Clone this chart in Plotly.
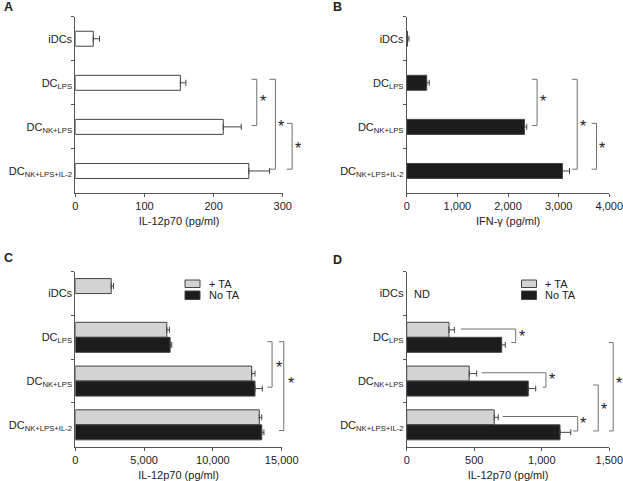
import plotly.graph_objects as go

# ---------------- data ----------------
categories = ["iDCs", "DC<sub>LPS</sub>", "DC<sub>NK+LPS</sub>", "DC<sub>NK+LPS+IL-2</sub>"]

a_values = [26, 152, 214, 251]
a_errors = [9, 8, 26, 30]

b_values = [15, 395, 2325, 3075]
b_errors = [30, 50, 45, 140]

c_ta_values = [2610, 6650, 12820, 13370]
c_ta_errors = [170, 190, 240, 180]
c_nota_values = [None, 6890, 13060, 13550]
c_nota_errors = [0, 120, 530, 160]

d_ta_values = [None, 313, 463, 648]
d_ta_errors = [0, 40, 55, 30]
d_nota_values = [None, 703, 900, 1135]
d_nota_errors = [0, 27, 55, 80]

series_names = ["+ TA", "No TA"]
x_titles = ["IL-12p70 (pg/ml)", "IFN-γ (pg/ml)", "IL-12p70 (pg/ml)", "IL-12p70 (pg/ml)"]
x_ranges = [[0, 300], [0, 4000], [0, 15000], [0, 1500]]
x_dticks = [100, 1000, 5000, 500]
panel_letters = ["A", "B", "C", "D"]

# significance brackets: (x_top_start, x_bottom_start, x_vertical, y_top, y_bottom)
a_brackets = [(255, 255, 262.5, 0.92, 1.97), (280.8, 280.8, 289.5, 0.92, 2.96), (305.9, 305.9, 313.6, 1.92, 2.96)]
a_stars = [(271, 1.43), (297, 2.0), (322, 2.5)]
b_brackets = [(2475, 2475, 2574, 0.92, 1.97), (3267, 3267, 3366, 0.92, 2.96), (3650, 3650, 3748, 1.92, 2.96)]
b_stars = [(2692, 1.43), (3485, 2.0), (3860, 2.5)]
c_brackets = [(13960, 13960, 14300, 1.10, 2.14), (14800, 14800, 15150, 1.10, 3.13)]
c_stars = [(14770, 1.69), (15660, 2.05)]
d_brackets = [(402, 774, 807, 0.81, 1.12), (555, 1007, 1031, 1.81, 2.14), (711, 1233, 1266, 2.81, 3.14),
              (1381, 1381, 1418, 2.09, 3.14), (1497, 1497, 1529, 1.12, 3.14)]
d_stars = [(856, 0.985), (1073, 1.975), (1307, 2.97), (1462, 2.66), (1574, 2.05)]

# ---------------- style ----------------
FONT = "Liberation Sans, Arial, sans-serif"
TXT = "#222222"
AX = "#555555"
EDGE = "#444444"
GRAY = "#d3d3d3"
BLACK = "#1c1c1c"
FS = 11

W, H = 623, 481
x_domains = [[75.3 / W, 282.7 / W], [406.7 / W, 609.3 / W], [75.3 / W, 281.7 / W], [406.7 / W, 609.3 / W]]
y_top = [1 - 193 / H, 1 - 16.7 / H]
y_bot = [1 - 446.7 / H, 1 - 271.7 / H]
y_domains = [y_top, y_top, y_bot, y_bot]
Y_RANGE = [3.5, -0.5]

fig = go.Figure()


def err(arr):
    return dict(type="data", array=arr, arrayminus=[0] * len(arr), symmetric=False,
                color=EDGE, thickness=1, width=3)


# Panel A
fig.add_trace(go.Bar(y=categories, x=a_values, orientation="h", width=0.34,
                     marker=dict(color="white", line=dict(color=EDGE, width=1)),
                     error_x=err(a_errors), xaxis="x", yaxis="y", showlegend=False, name="IL-12p70"))
# Panel B
fig.add_trace(go.Bar(y=categories, x=b_values, orientation="h", width=0.34,
                     marker=dict(color=BLACK, line=dict(color=EDGE, width=1)),
                     error_x=err(b_errors), xaxis="x2", yaxis="y2", showlegend=False, name="IFN-γ"))
# Panel C
fig.add_trace(go.Bar(y=categories, x=c_ta_values, orientation="h", name=series_names[0],
                     marker=dict(color=GRAY, line=dict(color=EDGE, width=1)),
                     error_x=err(c_ta_errors), xaxis="x3", yaxis="y3", showlegend=False))
fig.add_trace(go.Bar(y=categories, x=c_nota_values, orientation="h", name=series_names[1],
                     marker=dict(color=BLACK, line=dict(color=EDGE, width=1)),
                     error_x=err(c_nota_errors), xaxis="x3", yaxis="y3", showlegend=False))
# Panel D
fig.add_trace(go.Bar(y=categories, x=d_ta_values, orientation="h", name=series_names[0],
                     marker=dict(color=GRAY, line=dict(color=EDGE, width=1)),
                     error_x=err(d_ta_errors), xaxis="x4", yaxis="y4", showlegend=False))
fig.add_trace(go.Bar(y=categories, x=d_nota_values, orientation="h", name=series_names[1],
                     marker=dict(color=BLACK, line=dict(color=EDGE, width=1)),
                     error_x=err(d_nota_errors), xaxis="x4", yaxis="y4", showlegend=False))

layout = dict(width=W, height=H, margin=dict(l=0, r=0, t=0, b=0, autoexpand=False),
              paper_bgcolor="white", plot_bgcolor="white",
              barmode="group", bargap=0.314, bargroupgap=0,
              font=dict(family=FONT, size=FS, color=TXT))

for i in range(4):
    sx = "" if i == 0 else str(i + 1)
    layout["xaxis" + sx] = dict(domain=x_domains[i], range=x_ranges[i], anchor="y" + sx,
                                 automargin=False, ticklabeloverflow="allow",
                                 dtick=x_dticks[i], tick0=0, tickformat=",d",
                                 showline=True, linecolor=AX, linewidth=1,
                                 ticks="outside", ticklen=3, tickcolor=AX, tickwidth=1,
                                 showgrid=False, zeroline=False,
                                 tickfont=dict(size=FS, color=TXT),
                                 title=dict(text=x_titles[i], standoff=6, font=dict(size=FS, color=TXT)))
    layout["yaxis" + sx] = dict(domain=y_domains[i], range=Y_RANGE, anchor="x" + sx,
                                 automargin=False,
                                 type="category", categoryorder="array", categoryarray=categories,
                                 showline=True, linecolor=AX, linewidth=1,
                                 ticks="outside", ticklen=3, tickcolor=AX, tickwidth=1,
                                 tickson="boundaries", showgrid=False, zeroline=False,
                                 tickfont=dict(size=FS, color=TXT))

fig.update_layout(**layout)


def xd(v, rng):
    return (v - rng[0]) / (rng[1] - rng[0])


def yd(v):
    return (v - Y_RANGE[0]) / (Y_RANGE[1] - Y_RANGE[0])


shapes = []
annotations = []
panels = [(a_brackets, a_stars), (b_brackets, b_stars), (c_brackets, c_stars), (d_brackets, d_stars)]
for i, (brs, stars) in enumerate(panels):
    sx = "" if i == 0 else str(i + 1)
    xr, yr = "x" + sx + " domain", "y" + sx + " domain"
    rng = x_ranges[i]
    for (xa, xb, xv, y1, y2) in brs:
        segs = [((xa, y1), (xv, y1)), ((xv, y1), (xv, y2)), ((xv, y2), (xb, y2))]
        for (p0, p1) in segs:
            shapes.append(dict(type="line", xref=xr, yref=yr,
                               x0=xd(p0[0], rng), y0=yd(p0[1]), x1=xd(p1[0], rng), y1=yd(p1[1]),
                               line=dict(color="#707070", width=1)))
    for (xs, ys) in stars:
        annotations.append(dict(text="*", xref=xr, yref=yr, x=xd(xs, rng), y=yd(ys),
                                showarrow=False, font=dict(size=16, color=TXT),
                                xanchor="center", yanchor="middle"))

# panel letters
letter_pos = [(2, 7), (331, 7), (2, 258), (331, 260)]
for L, (px, py) in zip(panel_letters, letter_pos):
    annotations.append(dict(text="<b>" + L + "</b>", xref="paper", yref="paper",
                            x=px / W, y=1 - py / H, showarrow=False, xanchor="left", yanchor="middle",
                            font=dict(size=12.5, color=TXT, family=FONT)))

# ND label in D
annotations.append(dict(text="ND", xref="x4", yref="y4 domain", x=0, y=yd(0), xshift=5,
                        xanchor="left", yanchor="middle", showarrow=False,
                        font=dict(size=FS, color=TXT)))

# manual legends for C and D
for (lx, tx) in [(185, 207), (521.5, 543)]:
    for k, (c, y0, y1) in enumerate([(GRAY, 280, 287.5), (BLACK, 291, 299.5)]):
        shapes.append(dict(type="rect", xref="paper", yref="paper",
                           x0=lx / W, x1=(lx + 15) / W, y0=1 - y1 / H, y1=1 - y0 / H,
                           fillcolor=c, line=dict(color=EDGE, width=1)))
        annotations.append(dict(text=series_names[k], xref="paper", yref="paper",
                                x=tx / W, y=1 - (y0 + y1) / 2 / H, showarrow=False,
                                xanchor="left", yanchor="middle",
                                font=dict(size=FS, color=TXT)))

fig.update_layout(shapes=shapes, annotations=annotations)
fig.write_html("out.html", config={"displayModeBar": False},
               post_script="document.body.style.margin='0px';document.body.style.padding='0px';")
